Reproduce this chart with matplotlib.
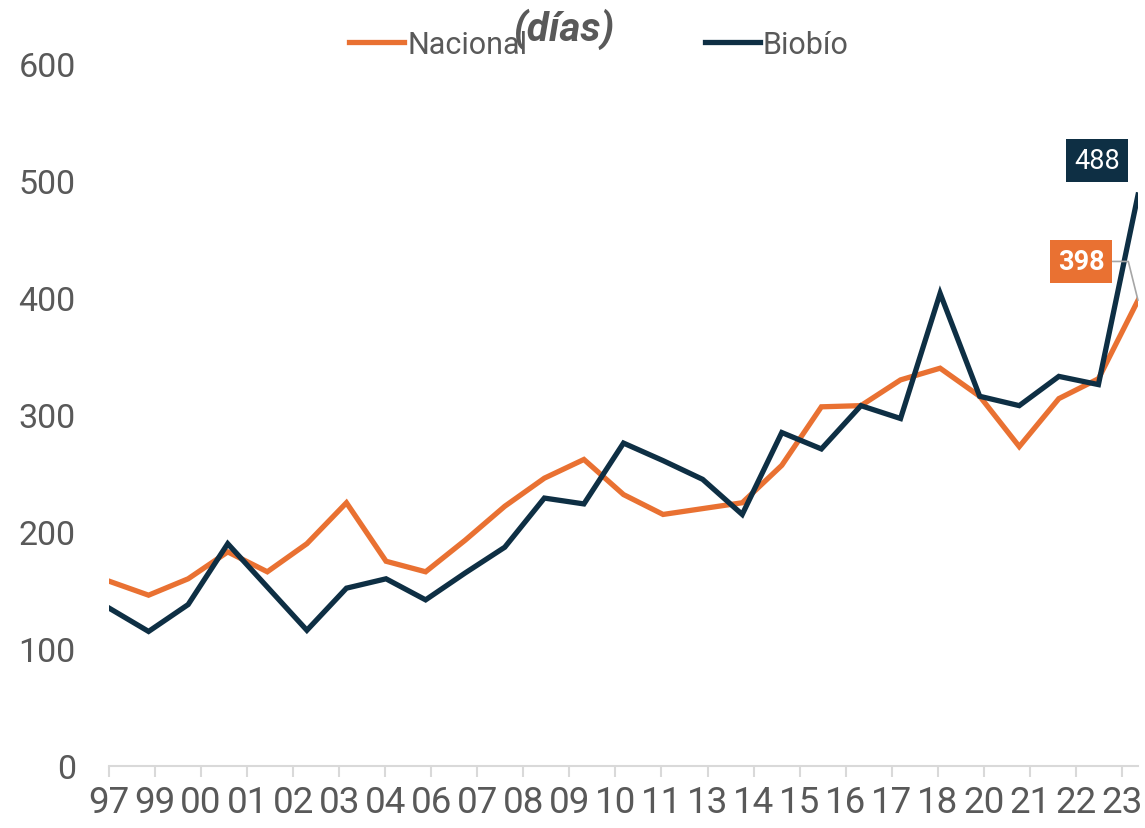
import matplotlib
matplotlib.use('Agg')

import matplotlib.pyplot as plt
import numpy as np

plt.rcParams['font.family'] = ['Roboto', 'DejaVu Sans']

# serie anual 1997-2023 (días)
anios = list(range(1997, 2024))
nacional = [158, 146, 160, 183, 166, 190, 225, 175, 166, 193, 222, 246, 262, 232,
            215, 220, 225, 257, 307, 308, 330, 340, 316, 273, 314, 331, 398]
biobio = [135, 115, 138, 190, 153, 116, 152, 160, 142, 165, 187, 229, 224, 276,
          261, 245, 215, 285, 271, 308, 297, 404, 316, 308, 333, 326, 488]

# etiquetas que muestra el eje de categorías
etiquetas = ['97', '99', '00', '01', '02', '03', '04', '06', '07', '08', '09', '10',
             '11', '13', '14', '15', '16', '17', '18', '20', '21', '22', '23']

NARANJO = '#E97132'
AZUL = '#0E2F44'
GRIS = '#595959'

fig = plt.figure(figsize=(11.45, 8.29), dpi=100)
ax = fig.add_axes([109 / 1145, 62 / 829, 1029 / 1145, 702 / 829])

x = np.arange(len(anios))
ax.plot(x, nacional, color=NARANJO, linewidth=3.8, solid_joinstyle='miter', label='Nacional')
ax.plot(x, biobio, color=AZUL, linewidth=3.8, solid_joinstyle='miter', label='Biobío')

ax.set_xlim(0, len(anios) - 1)
ax.set_ylim(0, 600)

# eje de categorías: 23 marcas repartidas en el ancho (la última antes del borde)
paso = (len(anios) - 1) / 22.35
ax.set_xticks(np.arange(len(etiquetas)) * paso)
ax.set_xticklabels(etiquetas)
ax.set_yticks(range(0, 601, 100))

for lado in ['top', 'right', 'left']:
    ax.spines[lado].set_visible(False)
ax.spines['bottom'].set_color('#D9D9D9')
ax.spines['bottom'].set_linewidth(1.5)

ax.tick_params(axis='x', colors='#D9D9D9', length=8, width=1.5, pad=5,
               labelsize=26.5, labelcolor=GRIS)
ax.tick_params(axis='y', length=0, pad=24, labelsize=24.5, labelcolor=GRIS)

# etiquetas de datos del último año
ax.annotate('488', xy=(x[-1], biobio[-1]), xytext=(-29.5, 25), textcoords='offset points',
            ha='center', va='center', color='white', fontsize=19.5,
            bbox=dict(boxstyle='square,pad=0.3', fc=AZUL, ec='none'))
ax.annotate('398', xy=(x[-1], nacional[-1]), xytext=(-41, 28), textcoords='offset points',
            ha='center', va='center', color='white', fontsize=19.5, fontweight='bold',
            bbox=dict(boxstyle='square,pad=0.3', fc=NARANJO, ec='none'),
            arrowprops=dict(arrowstyle='-', color='#A6A6A6', lw=1.2,
                            connectionstyle='angle,angleA=0,angleB=104,rad=0',
                            shrinkA=0, shrinkB=0))

fig.legend(loc='center', bbox_to_anchor=(0.523, 0.945), ncol=2, frameon=False,
           fontsize=22, handlelength=1.8, handletextpad=0.1, columnspacing=5.8,
           labelcolor=GRIS)

fig.text(0.492, 0.965, '(días)', ha='center', va='center', fontsize=29,
         fontweight='bold', fontstyle='italic', color=GRIS)

fig.savefig('out.png', dpi=100)
